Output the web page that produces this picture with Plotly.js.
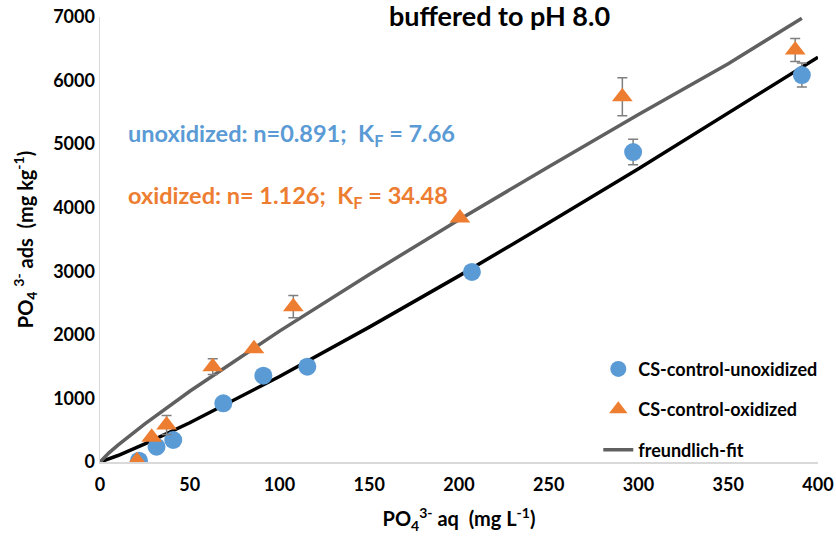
<!DOCTYPE html>
<html>
<head>
<meta charset="utf-8">
<script src="https://cdn.plot.ly/plotly-3.0.1.min.js"></script>
<style>html,body{margin:0;padding:0;background:#fff;}#chart{width:836px;height:537px;}</style>
</head>
<body>
<div id="chart"></div>
<script>
// Measured points: CS-control-unoxidized
const unoxX = [21.7, 31.5, 40.8, 68.7, 91, 115.5, 207.2, 297, 391];
const unoxY = [20, 240, 346, 923, 1358, 1499, 2990, 4876, 6087];
const unoxErr = [0, 0, 0, 0, 0, 0, 0, 200, 190];
// Measured points: CS-control-oxidized
const oxX = [20.6, 28.8, 37.1, 62.8, 85.8, 107.7, 200.5, 291, 387.3];
const oxY = [20, 388, 582, 1500, 1780, 2443, 3838, 5746, 6480];
const oxErr = [0, 0, 150, 125, 0, 175, 0, 300, 180];
// Fit curves
const fitUnoxX = [0, 5, 10, 25, 50, 100, 150, 200, 250, 300, 350, 400];
const fitUnoxY = [0, 47, 102, 284, 618, 1345, 2122, 2928, 3762, 4613, 5484, 6368];
const fitOxX = [0, 5, 10, 25, 50, 100, 150, 200, 250, 300, 350, 391];
const fitOxY = [0, 144, 266, 601, 1113, 2059, 2951, 3810, 4645, 5468, 6265, 6980];

const FONT = 'Lato, "Open Sans", sans-serif';
const blue = '#5B9BD5', orange = '#ED7D31';

const traces = [
  {x: fitUnoxX, y: fitUnoxY, mode: 'lines', name: 'freundlich-fit', legendgroup: 'fit', showlegend: false,
   line: {color: '#000000', width: 3.5}, hoverinfo: 'skip'},
  {x: fitOxX, y: fitOxY, mode: 'lines', name: 'freundlich-fit', legendgroup: 'fit', showlegend: true, legendrank: 3,
   line: {color: '#606060', width: 3.5}, hoverinfo: 'skip'},
  {x: unoxX, y: unoxY, mode: 'markers', name: 'CS-control-unoxidized', legendgroup: 'u', legendrank: 1,
   marker: {symbol: 'circle', size: 18, color: blue},
   error_y: {type: 'data', array: unoxErr, visible: true, color: '#7f7f7f', thickness: 1.5, width: 5}},
  {x: oxX, y: oxY, mode: 'markers', name: 'CS-control-oxidized', legendgroup: 'o', legendrank: 2,
   marker: {symbol: 'triangle-up', size: 18, color: orange},
   error_y: {type: 'data', array: oxErr, visible: true, color: '#7f7f7f', thickness: 1.5, width: 5}}
];

const layout = {
  width: 836, height: 537,
  margin: {l: 100, r: 18, t: 17, b: 75},
  paper_bgcolor: '#ffffff', plot_bgcolor: '#ffffff',
  font: {family: FONT, color: '#000000', weight: 'bold'},
  showlegend: true,
  legend: {x: 0.694, xanchor: 'left', y: 0.25, yanchor: 'top', traceorder: 'grouped', tracegroupgap: 14,
           font: {family: FONT, size: 18, weight: 'bold', color: '#000'}, bgcolor: 'rgba(0,0,0,0)'},
  xaxis: {range: [0, 400], dtick: 50, tick0: 0, showgrid: false, zeroline: false,
          showline: true, linecolor: '#d9d9d9', linewidth: 1.5, ticks: '', ticklabelstandoff: 6,
          tickfont: {family: FONT, size: 18, weight: 'bold'},
          title: {text: 'PO<sub>4</sub><sup>3-</sup> aq  (mg L<sup>-1</sup>)', font: {family: FONT, size: 20, weight: 'bold'}, standoff: 18}},
  yaxis: {range: [0, 7000], dtick: 1000, tick0: 0, showgrid: false, zeroline: false,
          showline: true, linecolor: '#d9d9d9', linewidth: 1.5, ticks: '',
          tickfont: {family: FONT, size: 18, weight: 'bold'},
          title: {text: 'PO<sub>4</sub> <sup>3-</sup> ads  (mg kg<sup>-1</sup>)', font: {family: FONT, size: 20, weight: 'bold'}, standoff: 14}},
  annotations: [
    {xref: 'paper', yref: 'paper', x: 0.556, y: 1.003, xanchor: 'center', yanchor: 'middle', showarrow: false,
     text: 'buffered to pH 8.0', font: {family: FONT, size: 27, weight: 'bold', color: '#000'}},
    {xref: 'paper', yref: 'paper', x: 0.036, y: 0.735, xanchor: 'left', yanchor: 'middle', showarrow: false,
     text: 'unoxidized: n=0.891;  K<sub>F</sub> = 7.66', font: {family: FONT, size: 23.5, weight: 'bold', color: blue}},
    {xref: 'paper', yref: 'paper', x: 0.036, y: 0.595, xanchor: 'left', yanchor: 'middle', showarrow: false,
     text: 'oxidized: n= 1.126;  K<sub>F</sub> = 34.48', font: {family: FONT, size: 23.5, weight: 'bold', color: orange}}
  ]
};

Plotly.newPlot('chart', traces, layout, {displayModeBar: false, staticPlot: true});
</script>
</body>
</html>
